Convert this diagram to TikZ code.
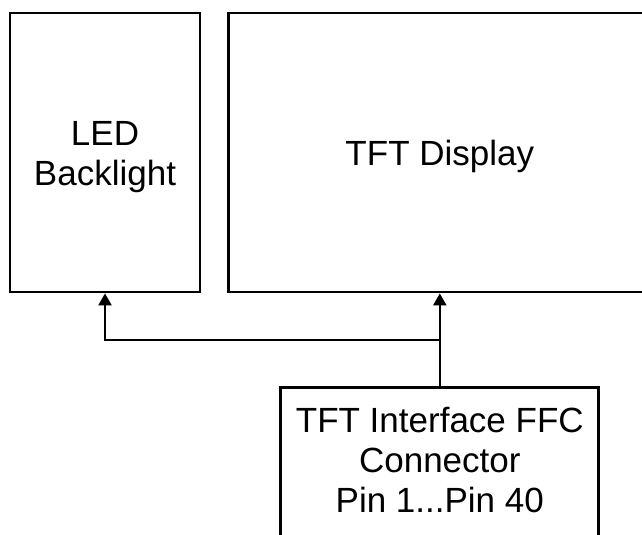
\documentclass[tikz,border=0pt]{standalone}
\usepackage{fontspec}
\setmainfont{Liberation Sans}
\usepackage{tikz}
\usetikzlibrary{positioning, arrows.meta}
\tikzset{
  block/.style={rectangle, draw=black, line width=2.8pt, align=center, text centered, font=\fontsize{35}{40}\selectfont},
  arrow/.style={line width=2.2pt, -{Triangle[length=12pt, width=13pt]}}
}

\begin{document}
\begin{tikzpicture}[x=1pt, y=1pt]
            \clip (0,0) rectangle (642,535);
            \node (led) [block, minimum width=190pt, minimum height=279pt, text height=74pt] at (105,382.5) {LED\\Backlight};
            \node (tft) [block, right=26pt of led, minimum width=422pt, minimum height=279pt, text height=34pt] {TFT Display};

            % Connector block, bottom edge is out of the picture
            \node (iface) [block, below=93pt of tft, minimum width=318pt, inner ysep=19pt, text depth=60pt] {TFT Interface FFC\\Connector\\Pin 1...Pin 40};

            % Split point under the display
            \coordinate (split) at (iface.north |- 0,195);

            \draw [arrow] (iface.north) -- (tft.south);
            \draw [arrow] (split) -| (led.south);
\end{tikzpicture}
\end{document}
